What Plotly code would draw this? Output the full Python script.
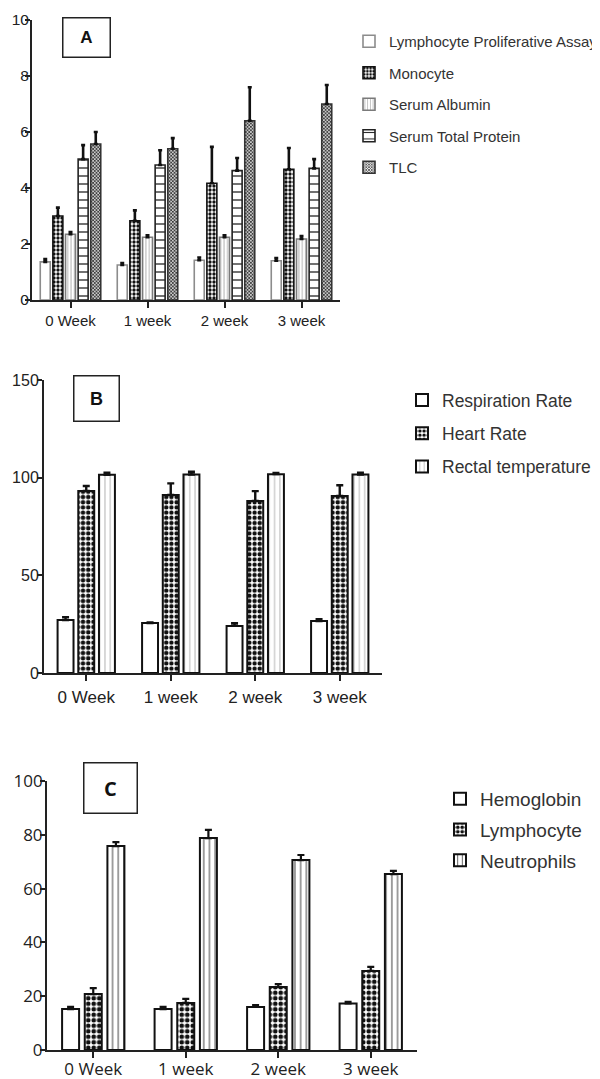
import plotly.graph_objects as go

weeks = ["0 Week", "1 week", "2 week", "3 week"]

# ---------------- Panel A ----------------
a_names = ["Lymphocyte Proliferative Assay", "Monocyte", "Serum Albumin",
           "Serum Total Protein", "TLC"]
a_lpa = [1.36, 1.25, 1.42, 1.40]
a_lpa_err = [0.10, 0.07, 0.10, 0.10]
a_mono = [3.00, 2.83, 4.17, 4.67]
a_mono_err = [0.30, 0.37, 1.30, 0.76]
a_alb = [2.35, 2.24, 2.24, 2.18]
a_alb_err = [0.08, 0.07, 0.07, 0.10]
a_tp = [5.03, 4.82, 4.62, 4.70]
a_tp_err = [0.50, 0.53, 0.45, 0.33]
a_tlc = [5.57, 5.40, 6.40, 7.00]
a_tlc_err = [0.43, 0.38, 1.20, 0.68]

# ---------------- Panel B ----------------
b_names = ["Respiration Rate", "Heart Rate", "Rectal temperature"]
b_rr = [27.1, 25.6, 24.1, 26.6]
b_rr_err = [1.5, 0.3, 1.4, 0.9]
b_hr = [93.2, 91.1, 88.1, 90.6]
b_hr_err = [2.5, 6.0, 5.0, 5.5]
b_rt = [101.5, 101.6, 101.8, 101.6]
b_rt_err = [1.0, 1.4, 0.6, 1.0]

# ---------------- Panel C ----------------
c_names = ["Hemoglobin", "Lymphocyte", "Neutrophils"]
c_hb = [15.2, 15.2, 16.0, 17.3]
c_hb_err = [0.8, 0.8, 0.7, 0.6]
c_ly = [20.8, 17.5, 23.4, 29.4]
c_ly_err = [2.2, 1.5, 1.1, 1.5]
c_ne = [75.8, 78.8, 70.6, 65.4]
c_ne_err = [1.5, 3.0, 1.9, 1.2]

W, H = 600, 1079
PAGE_OFF = 8  # default body margin of the html page
SANS = "Liberation Sans, Arial, sans-serif"
OPEN = "Open Sans, Liberation Sans, sans-serif"


def px(x):
    return (x - PAGE_OFF) / W


def py(y):
    return 1 - (y - PAGE_OFF) / H


fig = go.Figure()


def add_panel(idx, names, vals, errs, styles, group_frac, bar_frac,
              err_w, err_th, legend_id):
    n = len(names)
    slot = group_frac / n
    bw = slot * bar_frac
    xa = "x" if idx == 1 else f"x{idx}"
    ya = "y" if idx == 1 else f"y{idx}"
    for i in range(n):
        st = styles[i]
        off = -group_frac / 2 + i * slot + (slot - bw) / 2
        marker = dict(color="white",
                      line=dict(color=st["line"], width=st.get("lw", 1.6)))
        if st["shape"]:
            marker["pattern"] = dict(shape=st["shape"], size=st["size"],
                                     solidity=st["sol"], fgcolor=st["fg"],
                                     bgcolor="white", fillmode="replace")
        fig.add_trace(go.Bar(
            x=weeks, y=vals[i], name=names[i], xaxis=xa, yaxis=ya,
            offset=off, width=bw, marker=marker,
            error_y=dict(type="data", array=errs[i],
                         arrayminus=[0] * len(errs[i]), symmetric=False,
                         color="#111", thickness=err_th, width=err_w),
            legend=legend_id, legendgroup=f"{legend_id}_{i}",
            showlegend=True,
        ))


a_styles = [
    dict(shape="", line="#8c8c8c"),
    dict(shape=".", size=4, sol=0.55, fg="#111", line="#111"),
    dict(shape="|", size=3.4, sol=0.22, fg="#9a9a9a", line="#7a7a7a"),
    dict(shape="-", size=8, sol=0.16, fg="#222", line="#222"),
    dict(shape="x", size=2.4, sol=0.6, fg="#333", line="#333"),
]
b_styles = [
    dict(shape="", line="#111", lw=2),
    dict(shape=".", size=5.2, sol=0.55, fg="#111", line="#111", lw=2),
    dict(shape="|", size=5.3, sol=0.12, fg="#8a8a8a", line="#111", lw=2),
]
c_styles = [
    dict(shape="", line="#111", lw=2),
    dict(shape=".", size=5.5, sol=0.55, fg="#111", line="#111", lw=2),
    dict(shape="|", size=5.7, sol=0.14, fg="#111", line="#111", lw=2),
]

add_panel(1, a_names, [a_lpa, a_mono, a_alb, a_tp, a_tlc],
          [a_lpa_err, a_mono_err, a_alb_err, a_tp_err, a_tlc_err],
          a_styles, 0.82, 0.79, 2, 2.6, "legend")
add_panel(2, b_names, [b_rr, b_hr, b_rt], [b_rr_err, b_hr_err, b_rt_err],
          b_styles, 0.735, 0.77, 3.5, 2.4, "legend2")
add_panel(3, c_names, [c_hb, c_ly, c_ne], [c_hb_err, c_ly_err, c_ne_err],
          c_styles, 0.735, 0.75, 3.5, 2.2, "legend3")


def xax(domain, anchor, font, standoff):
    return dict(domain=domain, anchor=anchor, type="category",
                categoryorder="array", categoryarray=weeks,
                range=[-0.5, 3.5], showline=True, linecolor="#222",
                linewidth=2, ticks="outside", ticklen=6, tickwidth=2,
                tickcolor="#222", showgrid=False, zeroline=False,
                tickfont=font, fixedrange=True, ticklabelstandoff=standoff)


def yax(domain, anchor, rng, dtick, font, standoff):
    return dict(domain=domain, anchor=anchor, range=rng, dtick=dtick,
                showline=True, linecolor="#222", linewidth=2,
                ticks="outside", ticklen=5, tickwidth=2, tickcolor="#222",
                showgrid=False, zeroline=False, tickfont=font,
                fixedrange=True, ticklabelstandoff=standoff)


fontA_x = dict(family=SANS, size=15, color="#222")
fontA_y = dict(family=SANS, size=15.5, color="#222")
fontB_x = dict(family=SANS, size=17, color="#222")
fontB_y = dict(family=SANS, size=16, color="#222")
fontC_x = dict(family=OPEN, size=17, color="#222")
fontC_y = dict(family=OPEN, size=17, color="#222")

fig.update_layout(
    width=W, height=H, margin=dict(l=0, r=0, t=0, b=0, autoexpand=False),
    paper_bgcolor="white", plot_bgcolor="white", barmode="overlay",
    xaxis=xax([px(32), px(340)], "y", fontA_x, 0),
    yaxis=yax([py(300), py(20)], "x", [0, 10], 2, fontA_y, -7),
    xaxis2=xax([px(44), px(382)], "y2", fontB_x, 2),
    yaxis2=yax([py(673), py(380)], "x2", [0, 150], 50, fontB_y, -5),
    xaxis3=xax([px(47), px(417)], "y3", fontC_x, -3),
    yaxis3=yax([py(1050), py(781)], "x3", [0, 100], 20, fontC_y, -6),
    legend=dict(x=px(349), y=py(25), xanchor="left", yanchor="top",
                font=dict(family=SANS, size=15, color="#333"),
                tracegroupgap=9, traceorder="grouped", bgcolor="rgba(0,0,0,0)"),
    legend2=dict(x=px(402), y=py(382), xanchor="left", yanchor="top",
                 font=dict(family=SANS, size=17.5, color="#333"),
                 tracegroupgap=7.5, traceorder="grouped", bgcolor="rgba(0,0,0,0)"),
    legend3=dict(x=px(440), y=py(780), xanchor="left", yanchor="top",
                 font=dict(family=SANS, size=19, color="#333"),
                 tracegroupgap=3, traceorder="grouped", bgcolor="rgba(0,0,0,0)"),
    showlegend=True,
)

boxes = [
    ("A", 87, 38, 48, 40, dict(family=SANS, size=17, color="#111")),
    ("B", 96, 398, 46, 46, dict(family=SANS, size=18, color="#111")),
    ("C", 110, 787.5, 54, 51, dict(family=OPEN, size=20, color="#111")),
]
for txt, cx, cy, bw, bh, f in boxes:
    fig.add_annotation(x=px(cx), y=py(cy), xref="paper", yref="paper",
                       xanchor="center", yanchor="middle", showarrow=False,
                       text=f"<b>{txt}</b>", font=f, width=bw - 2, height=bh - 2,
                       bordercolor="#222", borderwidth=1.5, borderpad=0,
                       bgcolor="white", align="center", valign="middle")

fig.write_html("out.html")
